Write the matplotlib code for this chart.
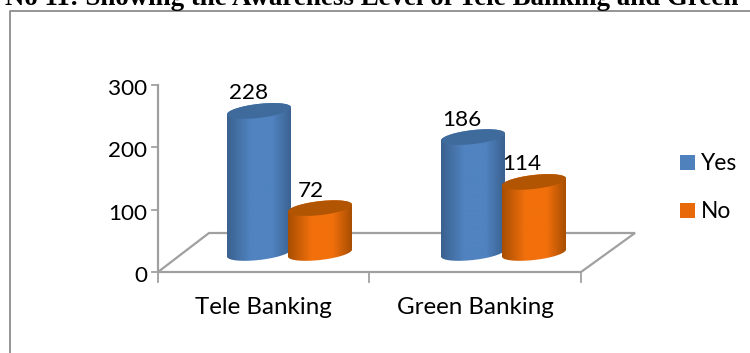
"""Awareness of tele banking and green banking: pseudo-3D cylinder chart."""

import matplotlib
matplotlib.use("Agg")
import matplotlib.pyplot as plt
import numpy as np
from matplotlib.colors import LinearSegmentedColormap
from matplotlib.patches import Polygon, Rectangle

categories = ["Tele Banking", "Green Banking"]
series_names = ["Yes", "No"]
yes_values = [228, 186]
no_values = [72, 114]
y_ticks = [0, 100, 200, 300]

W, H = 750, 353
X0, Y0 = 158, 272         # pixel position of the axis origin
PX_PER_UNIT = 187 / 300   # vertical scale
CAT_PX = 211.5            # width of one category
BAR_PX = 64               # cylinder width

BLUE = ("#3a618f", "#5083c0", "#3f6a9c", "#4f81bd")
ORANGE = ("#a84e02", "#f2700c", "#b25503", "#e8690a")

plt.rcParams["font.family"] = ["Lato", "DejaVu Sans"]

fig = plt.figure(figsize=(W / 100, H / 100), dpi=100)
ax = fig.add_axes([0, 0, 1, 1])
# x runs in category units, y in chart values; the whole figure is the axes
ax.set_xlim(-X0 / CAT_PX, (W - X0) / CAT_PX)
ax.set_ylim(-(H - Y0) / PX_PER_UNIT, Y0 / PX_PER_UNIT)
ax.axis("off")


def px(x, y):
    return (x - X0) / CAT_PX, (Y0 - y) / PX_PER_UNIT


GREY = "#a0a0a0"
FRAME = "#8c8c8c"

# outer chart frame, open on the right and bottom
ax.plot(*zip(px(9.5, H), px(9.5, 11), px(W, 11)), color=FRAME, lw=1.3, clip_on=False)

# floor
floor = [px(158, 272), px(581, 272), px(635, 233), px(209, 233)]
ax.add_patch(Polygon(floor, closed=True, facecolor="white", edgecolor=GREY, lw=1.6))

# value axis and ticks
ax.plot(*zip(px(158, 85), px(158, 272)), color=GREY, lw=1.6)
for t in y_ticks:
    ax.plot([-6 / CAT_PX, 0], [t, t], color=GREY, lw=1.3)
    ax.text(-11 / CAT_PX, t - 2 / PX_PER_UNIT, str(t), ha="right", va="center_baseline",
            fontsize=16.2, color="black")
for i in range(len(categories) + 1):
    ax.plot([i, i], [0, -10 / PX_PER_UNIT], color=GREY, lw=1.3)
for i, c in enumerate(categories):
    ax.text(i + 0.5, -36 / PX_PER_UNIT, c, ha="center", va="center", fontsize=17.4, color="black")

BASE_UP = 19 / PX_PER_UNIT    # cylinders stand back from the front floor edge
RX = BAR_PX / 2 / CAT_PX
RY = 7 / PX_PER_UNIT
TILT = 3.5 / PX_PER_UNIT      # right side of the ellipse sits higher


def ellipse(cx, cy, a0=0, a1=2 * np.pi, n=80):
    t = np.linspace(a0, a1, n)
    return np.column_stack([cx + RX * np.cos(t), cy + RY * np.sin(t) + TILT * np.cos(t)])


def cylinder(cx, value, colors):
    edge, mid, cap, _ = colors
    top = BASE_UP + value
    # lower rim goes left to right, then back across the top rim
    body = np.vstack([ellipse(cx, BASE_UP, np.pi, 2 * np.pi), ellipse(cx, top, 0, np.pi)])
    cmap = LinearSegmentedColormap.from_list("cyl", [edge, mid, mid, edge], N=256)
    grad = np.interp(np.linspace(0, 1, 256), [0, 0.55, 1], [0, 0.5, 1])[None, :]
    im = ax.imshow(grad, cmap=cmap, aspect="auto", zorder=3,
                   extent=[cx - RX, cx + RX, BASE_UP - 2 * RY, top + 2 * RY])
    clip = Polygon(body, closed=True, transform=ax.transData)
    im.set_clip_path(clip)
    ax.add_patch(Polygon(ellipse(cx, top), closed=True, facecolor=cap, edgecolor="none", zorder=3.1))


# the second bar of each pair overlaps the first slightly
GAP = 61 / CAT_PX
first_x = (259 - X0) / CAT_PX
STEP = (473 - 259) / CAT_PX
# label centres relative to the cylinder centre, in pixels: (Yes, No)
LABEL_DX = [(-10, -9), (-11, -12)]
for i in range(len(categories)):
    cx = first_x + i * STEP
    cylinder(cx, yes_values[i], BLUE)
    ax.text(cx + LABEL_DX[i][0] / CAT_PX, BASE_UP + yes_values[i] + 17.5 / PX_PER_UNIT,
            str(yes_values[i]), ha="center", va="center", fontsize=16.2, zorder=5)
    cylinder(cx + GAP, no_values[i], ORANGE)
    ax.text(cx + GAP + LABEL_DX[i][1] / CAT_PX, BASE_UP + no_values[i] + 17.5 / PX_PER_UNIT,
            str(no_values[i]), ha="center", va="center", fontsize=16.2, zorder=5)

# legend
for name, colors, y in zip(series_names, (BLUE, ORANGE), (155, 203)):
    lx, ly = px(680, y + 15)
    ax.add_patch(Rectangle((lx, ly), 15 / CAT_PX, 15 / PX_PER_UNIT, facecolor=colors[3], edgecolor="none"))
    ax.text(*px(701, y + 9), name, ha="left", va="center", fontsize=16.4)

# caption running off the top of the page
fig.text(5 / W, 1 - 5 / H, "No 11: Showing the Awareness Level of Tele Banking and Green",
         family="Liberation Serif", weight="bold", fontsize=19.4, ha="left", va="baseline")

fig.savefig("out.png", dpi=100)
